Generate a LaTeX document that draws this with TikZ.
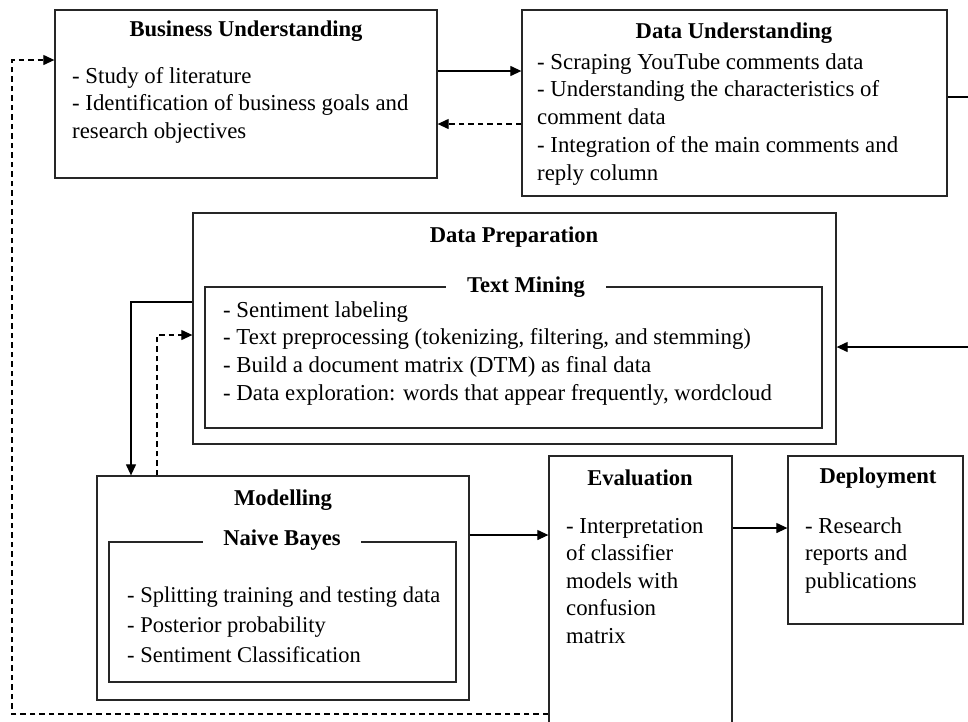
\documentclass[tikz,border=0pt]{standalone}
\usepackage{fontspec}
\setmainfont{Liberation Serif}
\usetikzlibrary{arrows.meta,fit}
\newcommand\myfirst{\rule{0pt}{16pt}}
\begin{document}
\begin{tikzpicture}[x=1pt,y=-1pt,
  box/.style={draw=black!85, line width=1.3pt, inner sep=0pt, fill=none},
  ttl/.style={font=\bfseries\fontsize{22.6}{27}\selectfont, inner sep=0pt},
  txt/.style={font=\fontsize{22.8}{27.7}\selectfont, align=left, inner sep=0pt, anchor=north west},
  arr/.style={line width=1.2pt, -{Triangle[length=11pt,width=10pt]}},
  darr/.style={line width=1.2pt, dash pattern=on 5.5pt off 4pt, -{Triangle[length=11pt,width=10pt]}}]
\useasboundingbox[fill=white] (0,0) rectangle (968,721);

% boxes
\node[box, fit={(55,10) (437,178)}] (bu) {};
\node[box, fit={(522,10) (947,196)}] (du) {};
\node[box, fit={(193,213) (836,444)}] (dp) {};
\node[box, fit={(205,287) (822,428)}] (tm) {};
\node[box, fit={(97,476) (469,700)}] (mod) {};
\node[box, fit={(109,542) (456,682)}] (nb) {};
\node[box, fit={(549,456) (732,790)}] (ev) {};
\node[box, fit={(788,456) (963,624)}] (dep) {};

% titles
\node[ttl] (bu-h) at (246,31) {Business Understanding};
\node[ttl] (du-h) at (734,33) {Data Understanding};
\node[ttl] (dp-h) at (514,237) {Data Preparation};
\node[ttl, fill=white, inner xsep=21pt] (tm-h) at (526,287) {Text Mining};
\node[ttl] (mod-h) at (283,500) {Modelling};
\node[ttl, fill=white, inner xsep=20pt] (nb-h) at (282,540) {Naive Bayes};
\node[ttl] (ev-h) at (640,478) {Evaluation};
\node[ttl] (dep-h) at (878,478) {Deployment};

% body texts
\node[txt] (bu-t) at (72,67) {\myfirst- Study of literature\\- Identification of business goals and\\research objectives};
\node[txt] (du-t) at (537,53) {\myfirst- Scraping YouTube comments data\\- Understanding the characteristics of\\comment data\\- Integration of the main comments and\\reply column};
\node[txt] (tm-t) at (223,301) {\myfirst- Sentiment labeling\\- Text preprocessing (tokenizing, filtering, and stemming)\\- Build a document matrix (DTM) as final data\\- Data exploration: words that appear frequently, wordcloud};
\node[txt, font=\fontsize{22.5}{30}\selectfont] (nb-t) at (127,586) {\myfirst- Splitting training and testing data\\- Posterior probability\\- Sentiment Classification};
\node[txt, font=\fontsize{22.8}{27.5}\selectfont] (ev-t) at (566,517) {\myfirst- Interpretation\\of classifier\\models with\\confusion\\matrix};
\node[txt, font=\fontsize{22.8}{27.5}\selectfont] (dep-t) at (805,517) {\myfirst- Research\\reports and\\publications};

% helper coordinates
\coordinate (y1) at (0,71);
\coordinate (y2) at (0,124);
\coordinate (r1) at (0,97);
\coordinate (r2) at (0,347);
\coordinate (rgt) at (976,0);
\coordinate (k1) at (131,302);
\coordinate (k2) at (157,335);
\coordinate (y3) at (0,535);
\coordinate (y4) at (0,528);
\coordinate (lb) at (12,714);
\coordinate (lt) at (12,60);

% connectors
\draw[arr] (bu.east |- y1) -- (du.west |- y1);
\draw[darr] (du.west |- y2) -- (bu.east |- y2);
\draw[arr] (du.east |- r1) -- (rgt |- r1) -- (rgt |- r2) -- (dp.east |- r2);
\draw[arr] (dp.west |- k1) -- (k1) -- (k1 |- mod.north);
\draw[darr] (k2 |- mod.north) -- (k2) -- (dp.west |- k2);
\draw[arr] (mod.east |- y3) -- (ev.west |- y3);
\draw[arr] (ev.east |- y4) -- (dep.west |- y4);
\draw[darr] (ev.west |- lb) -- (lb) -- (lt) -- (bu.west |- lt);
\end{tikzpicture}
\end{document}
